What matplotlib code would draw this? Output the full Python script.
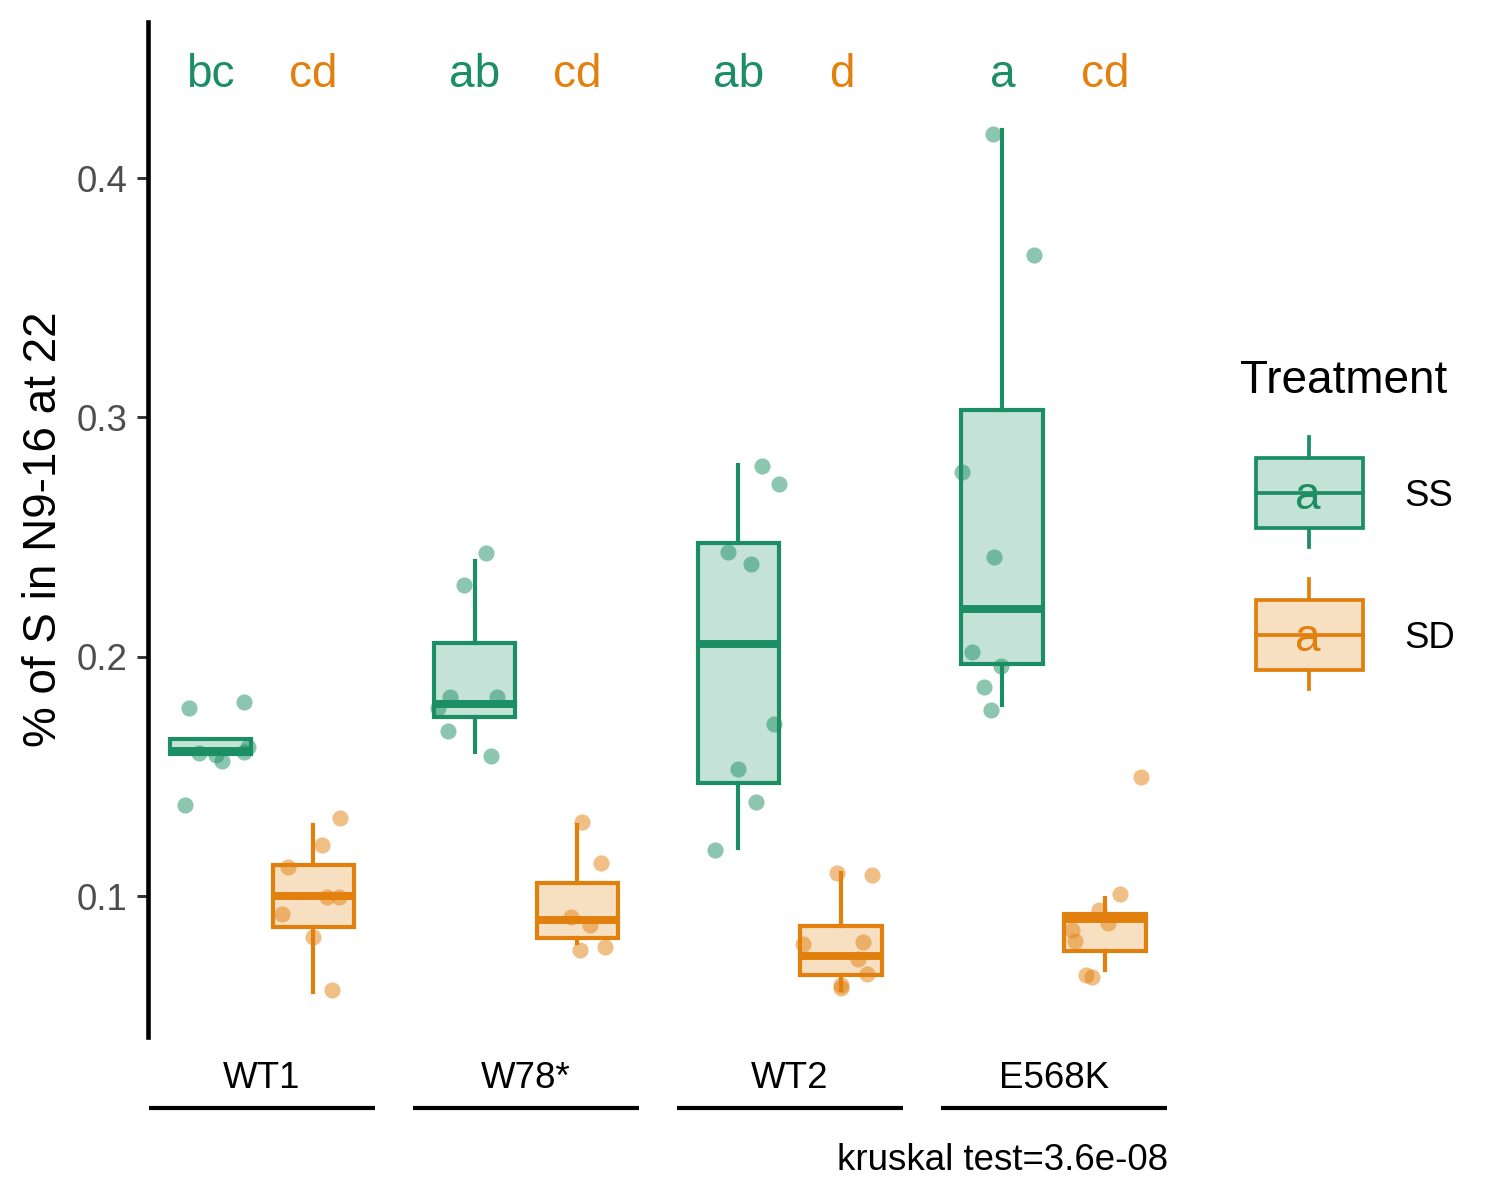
import numpy as np
import matplotlib.pyplot as plt
from matplotlib.transforms import blended_transform_factory
from matplotlib.patches import Rectangle

plt.rcParams['font.family'] = ['Liberation Sans', 'DejaVu Sans']

groups = ["WT1", "W78*", "WT2", "E568K"]
treatments = ["SS", "SD"]
letters_ss = ["bc", "ab", "ab", "a"]
letters_sd = ["cd", "cd", "d", "cd"]
letter_y = 0.4431

# box statistics
ss_q1 = [0.1595, 0.1748, 0.1472, 0.1970]
ss_med = [0.1605, 0.1802, 0.2053, 0.2199]
ss_q3 = [0.1655, 0.2056, 0.2475, 0.3031]
ss_lo = [0.1595, 0.1602, 0.1201, 0.1798]
ss_hi = [0.1655, 0.2400, 0.2801, 0.4200]

sd_q1 = [0.0870, 0.0824, 0.0672, 0.0770]
sd_med = [0.1000, 0.0900, 0.0749, 0.0905]
sd_q3 = [0.1130, 0.1054, 0.0875, 0.0925]
sd_lo = [0.0599, 0.0804, 0.0607, 0.0691]
sd_hi = [0.1297, 0.1297, 0.1096, 0.0992]

# jittered points: values and horizontal jitter
ss_vals = [
    [0.1786, 0.1811, 0.1598, 0.1589, 0.1564, 0.1602, 0.1623, 0.1380],
    [0.2433, 0.2300, 0.1832, 0.1832, 0.1786, 0.1690, 0.1585],
    [0.2797, 0.2722, 0.2438, 0.2387, 0.1719, 0.1531, 0.1393, 0.1192],
    [0.4184, 0.3677, 0.2772, 0.2417, 0.2020, 0.1961, 0.1873, 0.1777],
]
ss_jit = [
    [-0.080, 0.125, -0.042, 0.019, 0.045, 0.125, 0.140, -0.098],
    [0.042, -0.038, -0.091, 0.087, -0.140, -0.102, 0.061],
    [0.091, 0.155, -0.038, 0.049, 0.136, 0.0, 0.068, -0.087],
    [-0.034, 0.121, -0.152, -0.030, -0.114, -0.004, -0.068, -0.045],
]
sd_vals = [
    [0.1326, 0.1213, 0.1121, 0.0996, 0.0996, 0.0925, 0.0829, 0.0607],
    [0.1309, 0.1138, 0.0912, 0.0879, 0.0774, 0.0787],
    [0.1096, 0.1088, 0.0800, 0.0808, 0.0737, 0.0674, 0.0630, 0.0616],
    [0.1497, 0.1008, 0.0942, 0.0889, 0.0856, 0.0812, 0.0670, 0.0662],
]
sd_jit = [
    [0.102, 0.034, -0.098, 0.053, 0.095, -0.121, 0.0, 0.072],
    [0.019, 0.091, -0.023, 0.049, 0.011, 0.106],
    [-0.015, 0.117, -0.144, 0.080, 0.064, 0.098, 0.0, 0.0],
    [0.136, 0.057, -0.023, 0.011, -0.125, -0.114, -0.072, -0.049],
]

green = "#1B8E65"
orange = "#E2800E"

fig = plt.figure(figsize=(5, 4), dpi=300)
ax = fig.add_axes([148/1500, 1-1037/1200, (1170-148)/1500, (1037-22)/1200])

x = np.arange(1, len(groups) + 1)
dodge = 0.195
bw = 0.31


def light(col):
    return (*plt.matplotlib.colors.to_rgb(col), 0.25)


def draw_boxes(pos, q1, med, q3, lo, hi, col):
    stats = [dict(q1=a, med=m, q3=b, whislo=l, whishi=h, fliers=[])
             for a, m, b, l, h in zip(q1, med, q3, lo, hi)]
    ax.bxp(stats, positions=pos, widths=bw, patch_artist=True, showcaps=False,
           boxprops=dict(facecolor=light(col), edgecolor=col, linewidth=1.0),
           medianprops=dict(color=col, linewidth=1.9, solid_capstyle='butt'),
           whiskerprops=dict(color=col, linewidth=1.0),
           manage_ticks=False)


draw_boxes(x - dodge, ss_q1, ss_med, ss_q3, ss_lo, ss_hi, green)
draw_boxes(x + dodge, sd_q1, sd_med, sd_q3, sd_lo, sd_hi, orange)

for i in range(len(groups)):
    ax.scatter(x[i] - dodge + np.array(ss_jit[i]), ss_vals[i], s=15,
               color=green, alpha=0.5, lw=0, zorder=4)
    ax.scatter(x[i] + dodge + np.array(sd_jit[i]), sd_vals[i], s=15,
               color=orange, alpha=0.5, lw=0, zorder=4)
    ax.text(x[i] - dodge, letter_y, letters_ss[i], color=green,
            ha='center', va='center', fontsize=11)
    ax.text(x[i] + dodge, letter_y, letters_sd[i], color=orange,
            ha='center', va='center', fontsize=11)

ax.set_xlim(0.568, 4.44)
ax.set_ylim(0.0411, 0.4652)
ax.set_yticks([0.1, 0.2, 0.3, 0.4])
ax.set_yticklabels(["0.1", "0.2", "0.3", "0.4"])
ax.tick_params(axis='y', length=2.75, width=0.7, color='#333333',
               labelcolor='#4D4D4D', labelsize=8.8, pad=2.2)
ax.set_xticks([])
for s in ['top', 'right', 'bottom']:
    ax.spines[s].set_visible(False)
ax.spines['left'].set_linewidth(1.1)
ax.set_ylabel("% of S in N9-16 at 22", fontsize=11, labelpad=2.6)

# group labels with lines underneath
tr = blended_transform_factory(ax.transData, ax.transAxes)
for i, g in enumerate(groups):
    ax.text(x[i], -0.0404, g, transform=tr, ha='center', va='center',
            fontsize=8.8)
    ax.plot([x[i] - 0.428, x[i] + 0.428], [-0.07, -0.07], transform=tr,
            color='black', lw=1.0, clip_on=False, solid_capstyle='butt')
ax.text(0.998, -0.122, "kruskal test=3.6e-08", transform=ax.transAxes,
        ha='right', va='center', fontsize=8.8)

# legend drawn by hand in pixel space
lg = fig.add_axes([0, 0, 1, 1])
lg.set_xlim(0, 1500)
lg.set_ylim(1200, 0)
lg.axis('off')
lg.text(1240, 381, "Treatment", fontsize=11, ha='left', va='center')
for (yc, col, name) in [(493, green, treatments[0]), (635, orange, treatments[1])]:
    lg.plot([1309, 1309], [yc - 56, yc + 54], color=col, lw=0.9)
    lg.add_patch(Rectangle((1256, yc - 35), 107, 70, facecolor=light(col),
                           edgecolor=col, lw=0.9, zorder=3))
    lg.add_patch(Rectangle((1256, yc - 35), 107, 70, facecolor='white',
                           edgecolor='none', zorder=2))
    lg.plot([1256, 1363], [yc, yc], color=col, lw=0.9, zorder=4)
    lg.text(1308, yc + 4, "a", color=col, fontsize=11, ha='center',
            va='center', zorder=5)
    lg.text(1404, yc + 3, name, fontsize=8.8, ha='left', va='center')

fig.savefig("out.png", dpi=300)
